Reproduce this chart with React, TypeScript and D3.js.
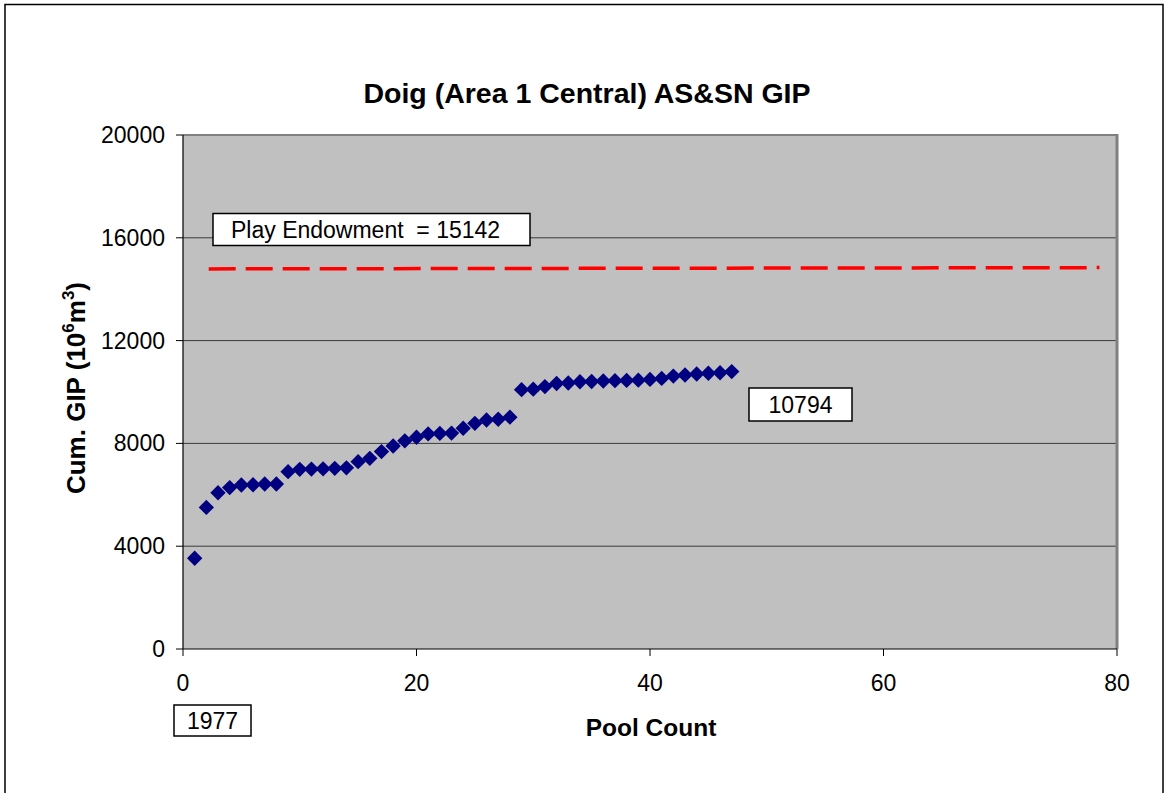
import React from "react";
import * as d3 from "d3";

const poolCount = [1,2,3,4,5,6,7,8,9,10,11,12,13,14,15,16,17,18,19,20,21,22,23,24,25,26,27,28,29,30,31,32,33,34,35,36,37,38,39,40,41,42,43,44,45,46,47];
const cumGIP = [3530,5510,6080,6280,6380,6390,6420,6420,6900,6990,7000,7010,7030,7050,7290,7420,7680,7900,8100,8240,8370,8390,8400,8590,8780,8910,8940,9020,10090,10110,10210,10330,10350,10400,10410,10430,10440,10450,10460,10490,10530,10620,10660,10700,10730,10750,10794];
const endowmentX = [2.2, 78.5];
const endowmentY = [14790, 14840];
const xTicks = [0, 20, 40, 60, 80];
const yTicks = [0, 4000, 8000, 12000, 16000, 20000];
const titleText = "Doig (Area 1 Central) AS&SN GIP";
const xTitle = "Pool Count";
const endowmentLabel = "Play Endowment  = 15142";
const lastLabel = "10794";
const startLabel = "1977";

const FONT = "'Liberation Sans', Arial, sans-serif";

export default function App() {
  const W = 1164, H = 793;
  const left = 183, right = 1117, top = 135, bottom = 649;
  const x = d3.scaleLinear().domain([0, 80]).range([left, right]);
  const y = d3.scaleLinear().domain([0, 20000]).range([bottom, top]);
  const diamond = d3.symbol().type(d3.symbolSquare).size(118)();
  const line = d3.line<number>().x((d, i) => x(endowmentX[i])).y((d) => y(d));

  return (
    <svg width={W} height={H} style={{ position: "absolute", left: 0, top: 0, background: "#fff" }} fontFamily={FONT}>
      <rect x={5} y={4.5} width={1158} height={800} fill="#fff" stroke="#000" strokeWidth={1.5} />
      <text x={587} y={103} textAnchor="middle" fontSize={28.5} fontWeight="bold">{titleText}</text>
      <rect x={left} y={top} width={right - left} height={bottom - top} fill="#C0C0C0" />
      {yTicks.filter((t) => t > 0 && t < 20000).map((t) => (
        <line key={t} x1={left} x2={right} y1={y(t)} y2={y(t)} stroke="#3a3a3a" strokeWidth={1} />
      ))}
      <line x1={left} x2={right} y1={top} y2={top} stroke="#808080" strokeWidth={2} />
      <line x1={right} x2={right} y1={top - 1} y2={bottom} stroke="#808080" strokeWidth={3} />
      <line x1={left} x2={left} y1={top} y2={bottom} stroke="#000" strokeWidth={1.2} />
      <line x1={left} x2={right} y1={bottom} y2={bottom} stroke="#000" strokeWidth={1.2} />
      {yTicks.map((t) => (
        <g key={t}>
          <line x1={left - 7} x2={left} y1={y(t)} y2={y(t)} stroke="#000" strokeWidth={1} />
          <text x={165} y={y(t)} dy="0.35em" textAnchor="end" fontSize={23}>{t}</text>
        </g>
      ))}
      {xTicks.map((t) => (
        <g key={t}>
          <line x1={x(t)} x2={x(t)} y1={bottom} y2={bottom + 7} stroke="#000" strokeWidth={1} />
          <text x={x(t)} y={683} dy="0.35em" textAnchor="middle" fontSize={23}>{t}</text>
        </g>
      ))}
      <text x={651} y={727} dy="0.35em" textAnchor="middle" fontSize={24.5} fontWeight="bold">{xTitle}</text>
      <text transform="translate(85,388) rotate(-90)" textAnchor="middle" fontSize={26} fontWeight="bold">
        Cum. GIP (10<tspan fontSize={17} dy={-11}>6</tspan><tspan dy={11}>m</tspan><tspan fontSize={17} dy={-11}>3</tspan><tspan dy={11}>)</tspan>
      </text>
      <path d={line(endowmentY) || ""} fill="none" stroke="#FF0000" strokeWidth={3.5} strokeDasharray="27,10" />
      {poolCount.map((p, i) => (
        <path key={p} d={diamond} transform={`translate(${x(p)},${y(cumGIP[i])}) rotate(45)`} fill="#000080" />
      ))}
      <rect x={213} y={213.5} width={317} height={32} fill="#fff" stroke="#000" strokeWidth={1.5} />
      <text x={231} y={229.5} dy="0.35em" fontSize={23} style={{ whiteSpace: "pre" }} xmlSpace="preserve">{endowmentLabel}</text>
      <rect x={749} y={388} width={103} height={33} fill="#fff" stroke="#000" strokeWidth={1.5} />
      <text x={800.5} y={404.5} dy="0.35em" textAnchor="middle" fontSize={23}>{lastLabel}</text>
      <rect x={174} y={705} width={77} height={31} fill="#fff" stroke="#000" strokeWidth={1.5} />
      <text x={212.5} y={720.5} dy="0.35em" textAnchor="middle" fontSize={23}>{startLabel}</text>
    </svg>
  );
}
